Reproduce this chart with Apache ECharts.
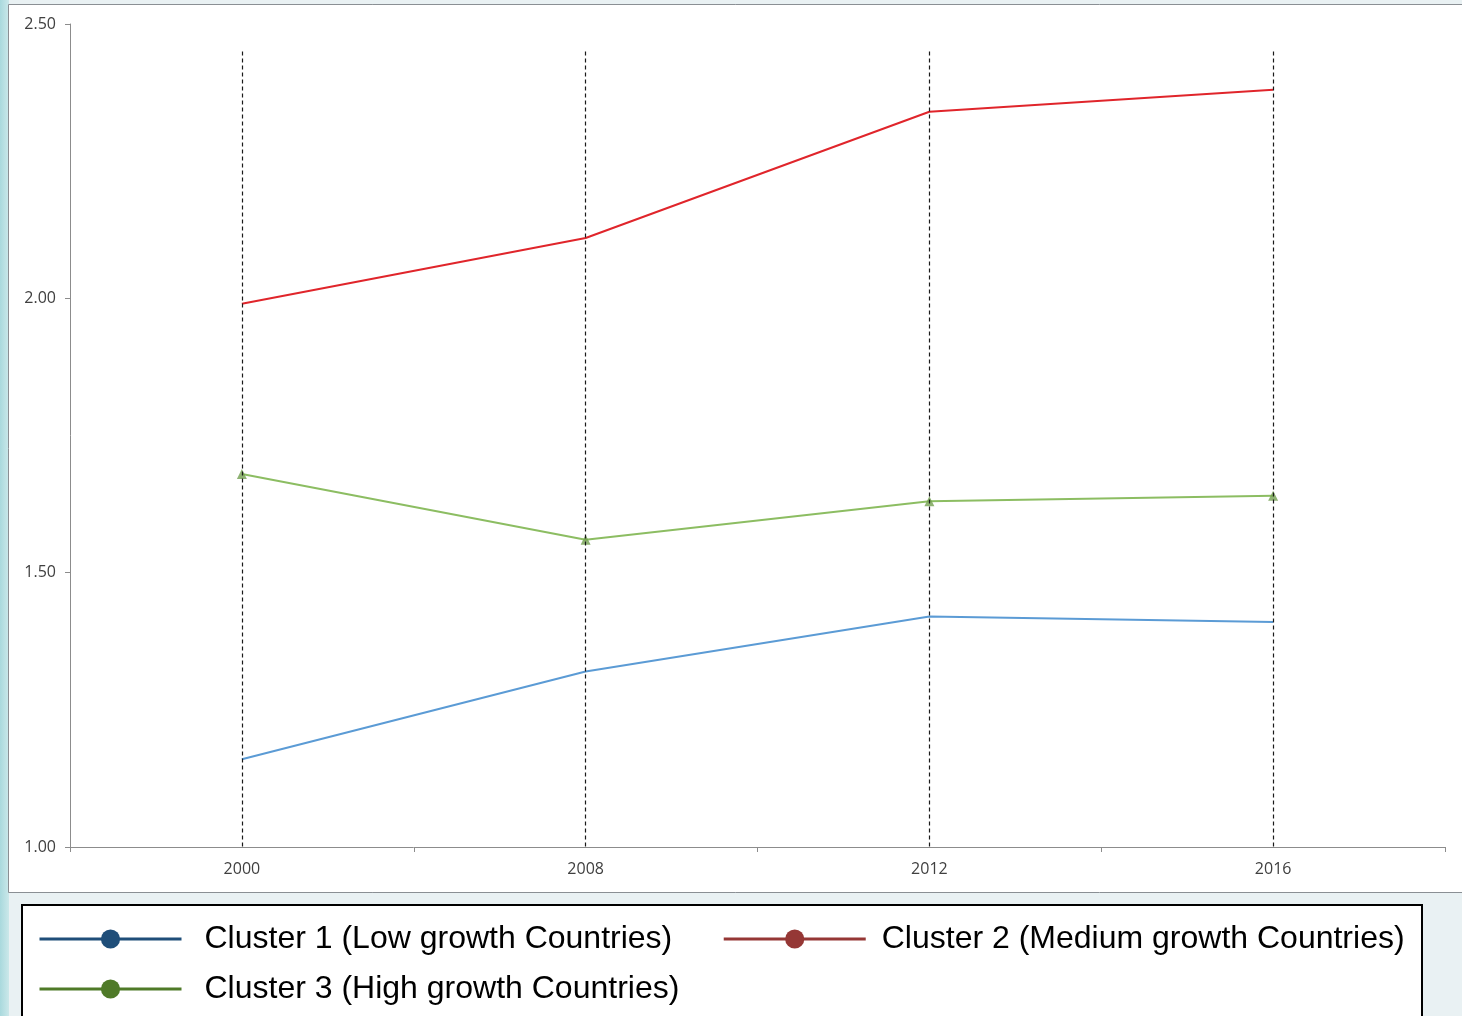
<!DOCTYPE html>
<html>
<head>
<meta charset="utf-8">
<script src="https://cdn.jsdelivr.net/npm/echarts@6/dist/echarts.min.js"></script>
<style>
html,body{margin:0;padding:0;background:#e9f1f3;}
#chart{width:1462px;height:1016px;}
</style>
</head>
<body>
<div id="chart"></div>
<script>
const years = ['2000', '2008', '2012', '2016'];
const yTicks = [1.0, 1.5, 2.0, 2.5];
const cluster1 = [1.16, 1.32, 1.42, 1.41];
const cluster2 = [1.99, 2.11, 2.34, 2.38];
const cluster3 = [1.68, 1.56, 1.63, 1.64];
const seriesNames = ['Cluster 1 (Low growth Countries)', 'Cluster 2 (Medium growth Countries)', 'Cluster 3 (High growth Countries)'];
const dropLineTop = 2.45;
const dropLineBottom = 1.0;

const chart = echarts.init(document.getElementById('chart'), null, {renderer: 'canvas'});

const axisFont = {fontFamily: 'Open Sans', fontSize: 16, color: '#404040'};
const legendText = {fontFamily: 'Liberation Sans', fontSize: 32, color: '#000', padding: [0, 0, 0, 18]};

const dropLines = years.map((y, i) => [{coord: [i, dropLineTop]}, {coord: [i, dropLineBottom]}]);

function legendItem(name, color, pad) {
  return {name: name, itemStyle: {color: color, borderWidth: 0}, lineStyle: {color: color, width: 3},
          textStyle: {padding: [0, 0, 0, pad]}};
}

chart.setOption({
  animation: false,
  backgroundColor: 'transparent',
  graphic: [
    {type: 'rect', z: -10, silent: true, shape: {x: 0, y: 0, width: 9, height: 1016},
     style: {fill: new echarts.graphic.LinearGradient(0, 0, 1, 0, [{offset: 0, color: '#a9d9dd'}, {offset: 1, color: '#cbe8ea'}])}},
    {type: 'rect', z: -9, silent: true, shape: {x: 8.5, y: 4.5, width: 1470, height: 888},
     style: {fill: '#ffffff', stroke: '#8a8f94', lineWidth: 1}},
    {type: 'rect', z: -9, silent: true, shape: {x: 22, y: 905, width: 1400, height: 140},
     style: {fill: '#ffffff', stroke: '#000000', lineWidth: 2}}
  ],
  grid: {left: 70, right: 17, top: 24, bottom: 169, containLabel: false},
  legend: [
    {left: 33, top: 918, orient: 'horizontal', itemWidth: 142, itemHeight: 24, itemGap: 50,
     selectedMode: false, textStyle: legendText,
     data: [legendItem(seriesNames[0], '#1f4e79', 18), legendItem(seriesNames[1], '#953735', 11)]},
    {left: 33, top: 968, orient: 'horizontal', itemWidth: 142, itemHeight: 24,
     selectedMode: false, textStyle: legendText,
     data: [legendItem(seriesNames[2], '#4f7a28', 18)]}
  ],
  xAxis: {
    type: 'category', data: years, boundaryGap: true,
    axisLine: {lineStyle: {color: '#8c8c8c', width: 1}},
    axisTick: {show: true, length: 5, lineStyle: {color: '#8c8c8c'}},
    axisLabel: Object.assign({margin: 14}, axisFont),
    splitLine: {show: false}
  },
  yAxis: {
    type: 'value', min: yTicks[0], max: yTicks[yTicks.length - 1], interval: 0.5,
    axisLine: {show: true, lineStyle: {color: '#8c8c8c', width: 1}},
    axisTick: {show: true, length: 5, lineStyle: {color: '#8c8c8c'}},
    axisLabel: Object.assign({margin: 14, formatter: v => v.toFixed(2)}, axisFont),
    splitLine: {show: false}
  },
  series: [
    {name: seriesNames[0], type: 'line', data: cluster1, symbol: 'none', showSymbol: false,
     lineStyle: {color: '#5b9bd5', width: 2}, itemStyle: {color: '#5b9bd5'}, z: 3,
     markLine: {silent: true, symbol: ['none', 'none'], label: {show: false},
       lineStyle: {color: '#1a1a1a', type: [4, 3], width: 1.2}, data: dropLines}},
    {name: seriesNames[1], type: 'line', data: cluster2, symbol: 'none', showSymbol: false,
     lineStyle: {color: '#e0252b', width: 2}, itemStyle: {color: '#e0252b'}, z: 3},
    {name: seriesNames[2], type: 'line', data: cluster3, symbol: 'none', showSymbol: false,
     lineStyle: {color: '#8cbd62', width: 2}, itemStyle: {color: '#8cbd62'}, z: 3},
    {name: 'Cluster 3 markers', type: 'scatter', data: cluster3, symbol: 'triangle', symbolSize: 10,
     itemStyle: {color: '#73a050'}, z: 4}
  ]
});
</script>
</body>
</html>
